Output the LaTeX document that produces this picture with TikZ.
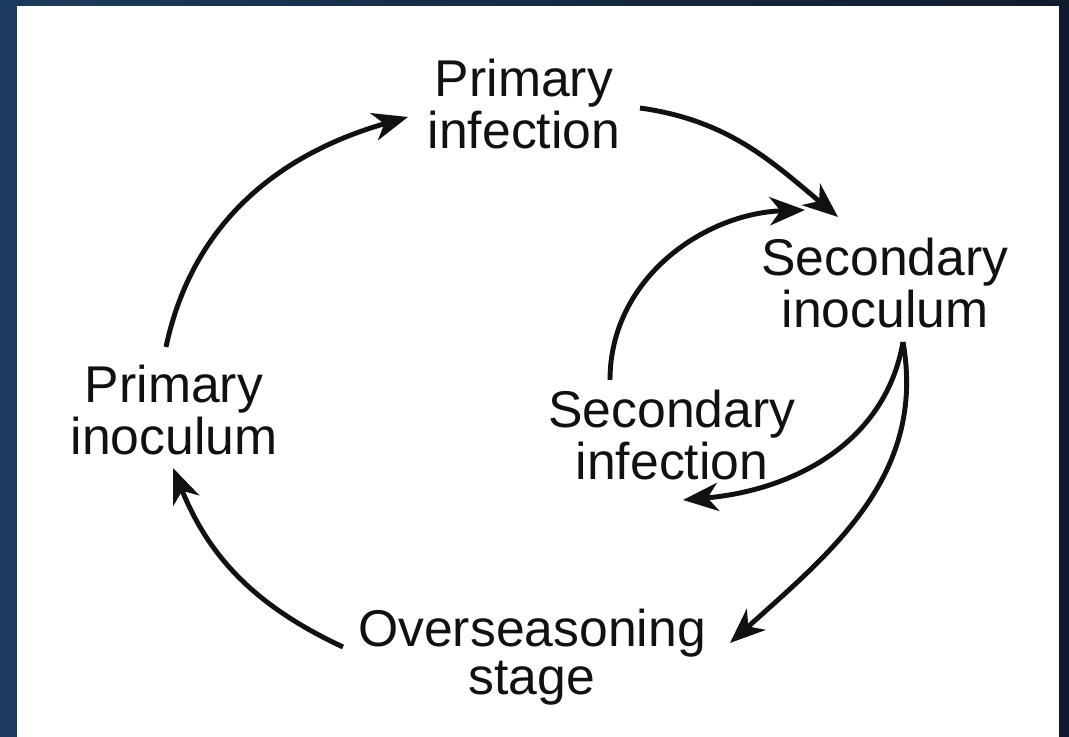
\documentclass[tikz,border=0pt]{standalone}
\usepackage{fontspec}
\setmainfont{Liberation Sans}
\usepackage{tikz}
\usetikzlibrary{arrows.meta,calc}
\definecolor{bgleft}{HTML}{1D3B5E}
\definecolor{bgright}{HTML}{0F1B2B}
\definecolor{ink}{HTML}{111111}
\tikzset{
  lbl/.style={align=center, inner sep=0pt, text=ink,
              font=\fontsize{14.7}{13.7}\selectfont},                   % stage label
  cyc/.style={draw=ink, line width=1.4pt,
              -{Stealth[length=10pt, width=8pt, inset=3pt]}},          % cycle arrow
}
\begin{document}
\begin{tikzpicture}[x=0.01cm, y=0.01cm]
  % dark frame and white panel
  \shade[left color=bgleft, right color=bgright] (0,0) rectangle (1069,737);
  \fill[white] (17,0) rectangle (1059,731);
  \useasboundingbox (0,0) rectangle (1069,737);

  \node[lbl] (pinf)  at (524,633) {Primary\\infection};
  \node[lbl] (sinoc) at (885,454) {Secondary\\inoculum};
  \node[lbl] (pinoc) at (174,327) {Primary\\inoculum};
  \node[lbl] (sinf)  at (672,302) {Secondary\\infection};
  \node[lbl] (over)  at (532,80)  {Overseasoning\\stage};

  \draw[cyc] ($(pinoc)+(-8,63)$) to[out=78, in=196] ($(pinf)+(-116,-13)$);
  \draw[cyc] ($(pinf)+(116,-4)$) to[out=-8, in=140] ($(sinoc)+(-47,66)$);
  \draw[cyc] ($(sinf)+(-62,55)$) to[out=90, in=182] ($(sinoc)+(-80,73)$);
  \draw[cyc] ($(sinoc)+(18,-59)$) to[out=-100, in=5] ($(sinf)+(11,-65)$);
  \draw[cyc] ($(sinoc)+(18,-59)$) to[out=-80, in=42] ($(over)+(198,14)$);
  \draw[cyc] ($(over)+(-189,10)$) to[out=155, in=-68] ($(pinoc)+(-1,-58)$);
\end{tikzpicture}
\end{document}
